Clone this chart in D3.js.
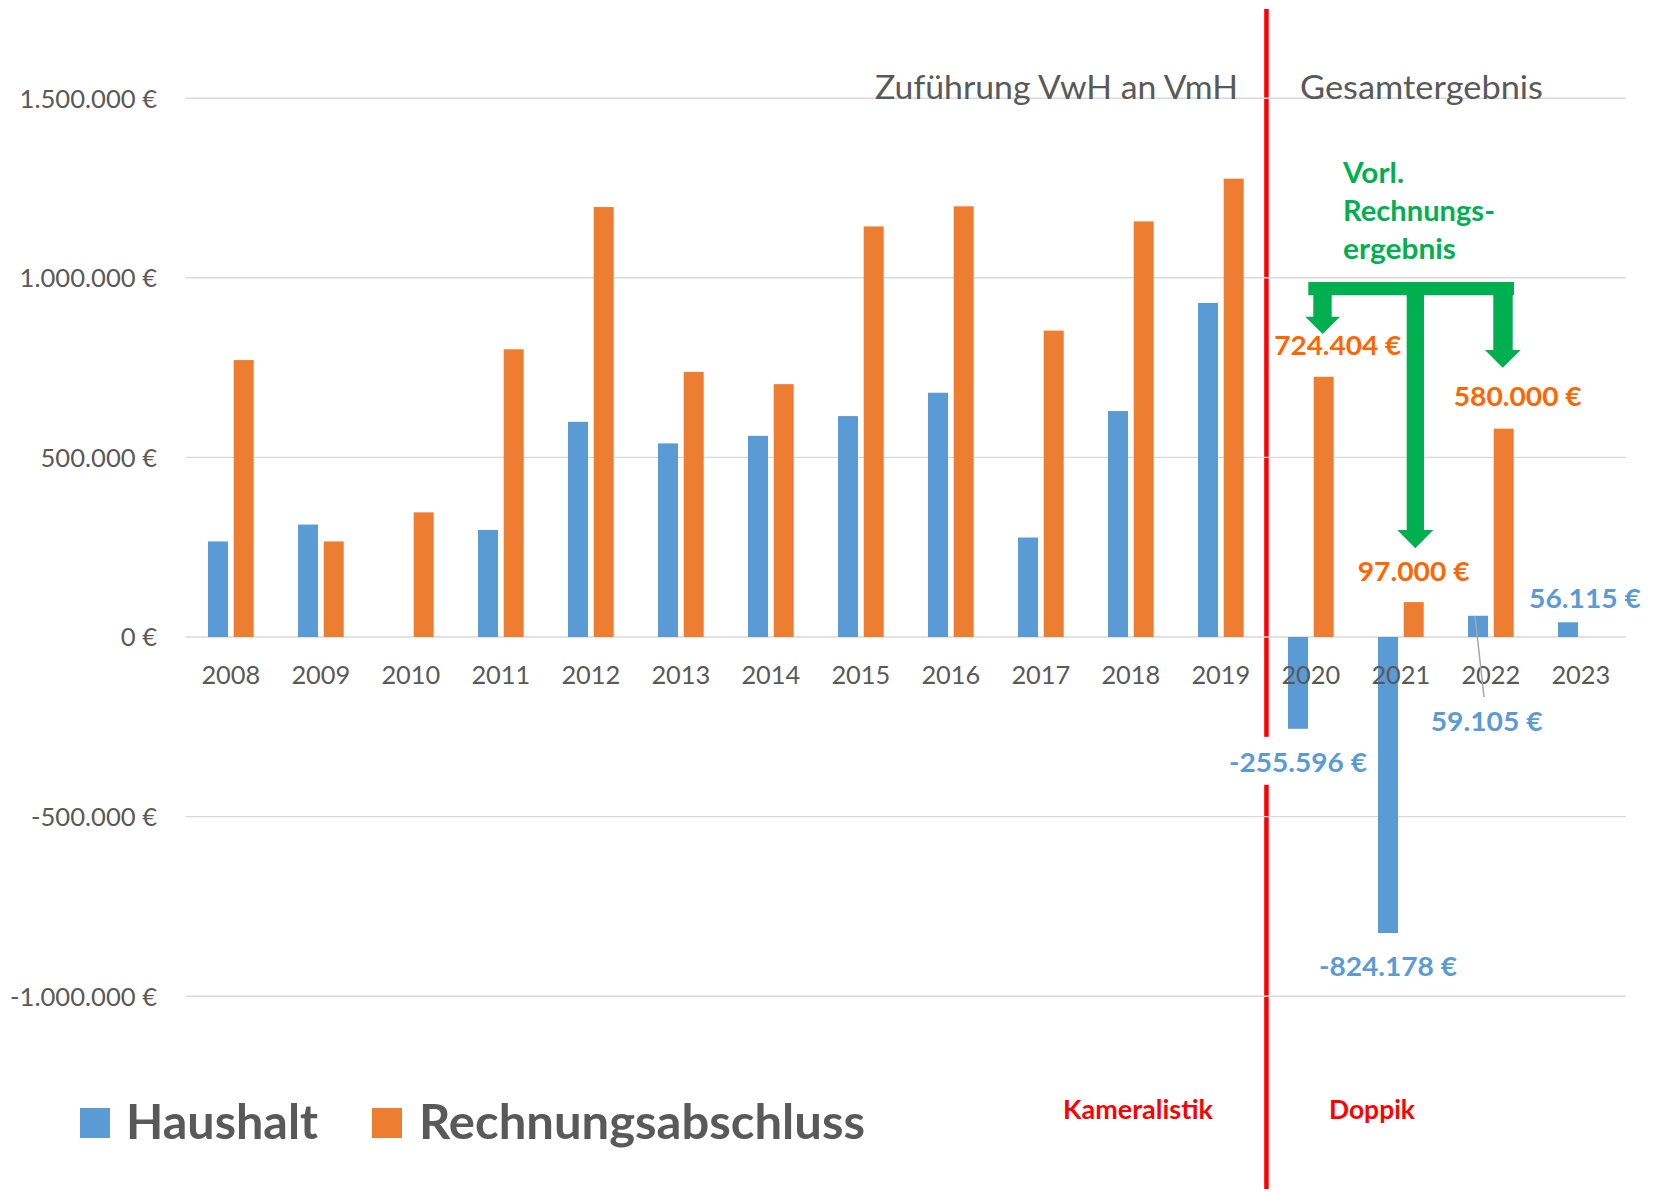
<!DOCTYPE html>
<html><head><meta charset="utf-8">
<script src="https://cdn.jsdelivr.net/npm/d3@7"></script>
<style>html,body{margin:0;padding:0;background:#fff;} svg{display:block;}</style>
</head><body>
<svg id="chart" width="1663" height="1192"></svg>
<script>
// ---------- data ----------
const years = ["2008","2009","2010","2011","2012","2013","2014","2015","2016","2017","2018","2019","2020","2021","2022","2023"];
const series = ["Haushalt","Rechnungsabschluss"];
const haushalt = [266000,313000,0,298000,599000,539000,560000,615000,680000,277000,629000,930000,-255596,-824178,59105,41000];
const rechnungsabschluss = [771000,266000,347000,801000,1197000,738000,704000,1143000,1199000,853000,1157000,1276000,724404,97000,580000,null];
const yTicks = [-1000000,-500000,0,500000,1000000,1500000];
// value labels (text, year, series)
const valueLabels = [
  {text:"724.404 €", year:"2020", s:"Rechnungsabschluss"},
  {text:"97.000 €", year:"2021", s:"Rechnungsabschluss"},
  {text:"580.000 €", year:"2022", s:"Rechnungsabschluss"},
  {text:"-255.596 €", year:"2020", s:"Haushalt"},
  {text:"-824.178 €", year:"2021", s:"Haushalt"},
  {text:"59.105 €", year:"2022", s:"Haushalt"},
  {text:"56.115 €", year:"2023", s:"Haushalt"}
];

// ---------- layout ----------
const plotL=185.85, plotR=1625.85;
const svg = d3.select("#chart");
const FONT = "Lato, 'Open Sans', sans-serif";
const GREY = "#595959";
const BLUE = "#5B9BD5", ORANGE = "#ED7D31";
const LBL_ORANGE = "#FF6600";
const GREEN = "#00B050";
const RED = "#FF0000";

const fit = (sel, w) => sel.attr("textLength", w).attr("lengthAdjust","spacingAndGlyphs");

const x = d3.scaleBand().domain(years).range([plotL, plotR]).padding(0);
const xs = d3.scaleBand().domain(series).range([-22.85, 22.85]).paddingInner(0.222);
const y = d3.scaleLinear().domain([-1000000,1500000]).range([996.2, 98.2]);

const locale = d3.formatLocale({decimal:",", thousands:".", grouping:[3], currency:["", " €"], minus:"-"});
const fmt = locale.format("$,.0f");

const barX = (yr, s) => x(yr) + x.bandwidth()/2 + xs(s);
const barC = (yr, s) => barX(yr, s) + xs.bandwidth()/2;

// red separator line (drawn below gridlines)
const sepX = (x("2019") + x.bandwidth() + x("2020")) / 2 + 0.6;
svg.append("line").attr("x1",sepX).attr("x2",sepX).attr("y1",9).attr("y2",1189)
  .attr("stroke",RED).attr("stroke-width",4.5);

// gridlines
svg.append("g").selectAll("line").data(yTicks).join("line")
  .attr("x1",plotL).attr("x2",plotR)
  .attr("y1",d=>y(d)).attr("y2",d=>y(d))
  .attr("stroke","#D9D9D9").attr("stroke-width",1.4);

// y axis labels
const yAxis = d3.axisLeft(y).tickValues(yTicks).tickFormat(fmt).tickSize(0).tickPadding(0);
const ya = svg.append("g").attr("transform","translate(157,0)").call(yAxis);
ya.select(".domain").remove();
ya.selectAll("text").attr("font-family",FONT).attr("font-size",25.6).attr("fill",GREY).attr("dy","0.35em");

// bars
const rows = [];
years.forEach((yr,i)=>{
  rows.push({yr, s:"Haushalt", v:haushalt[i]});
  rows.push({yr, s:"Rechnungsabschluss", v:rechnungsabschluss[i]});
});
svg.append("g").selectAll("rect").data(rows.filter(d=>d.v!==null && d.v!==0)).join("rect")
  .attr("x",d=>barX(d.yr,d.s)).attr("width",xs.bandwidth())
  .attr("y",d=>Math.min(y(d.v),y(0))).attr("height",d=>Math.abs(y(d.v)-y(0)))
  .attr("fill",d=>d.s==="Haushalt"?BLUE:ORANGE);

// x axis labels (on top of bars)
const xAxis = d3.axisBottom(x).tickSize(0).tickPadding(0);
const xa = svg.append("g").attr("transform","translate(0,684)").call(xAxis);
xa.select(".domain").remove();
xa.selectAll("text").attr("font-family",FONT).attr("font-size",25.4).attr("fill",GREY).attr("dy","0");

// section titles
fit(svg.append("text").attr("x",875).attr("y",99).text("Zuführung VwH an VmH")
  .attr("font-family",FONT).attr("font-size",32).attr("fill",GREY), 363);
fit(svg.append("text").attr("x",1300).attr("y",99).text("Gesamtergebnis")
  .attr("font-family",FONT).attr("font-size",32).attr("fill",GREY), 243);

// leader line for 59.105 €
svg.append("line").attr("x1",barC("2022","Haushalt")-3).attr("y1",y(59105))
  .attr("x2",barC("2022","Haushalt")+6).attr("y2",697)
  .attr("stroke","#A6A6A6").attr("stroke-width",1.5);

// value labels, placed relative to their bar
const lblOffsets = {
  "724.404 €":[14,-22], "97.000 €":[0,-21], "580.000 €":[14,-23],
  "-255.596 €":[0,43], "-824.178 €":[0,43], "59.105 €":[8.7,115], "56.115 €":[17,-14]
};
const lblWidth = {"724.404 €":127,"97.000 €":112,"580.000 €":128,"-255.596 €":138,"-824.178 €":138,"59.105 €":112,"56.115 €":112};
const lblVal = l => (l.s==="Haushalt"?haushalt:rechnungsabschluss)[years.indexOf(l.year)];
// white background behind -255.596 € (interrupts red line)
svg.append("rect").attr("x",sepX-8).attr("y",y(-255596)+8).attr("width",16).attr("height",48).attr("fill","#fff");
svg.append("g").selectAll("text").data(valueLabels).join("text")
  .attr("x",l=>barC(l.year,l.s)+lblOffsets[l.text][0])
  .attr("y",l=>y(lblVal(l))+lblOffsets[l.text][1])
  .attr("text-anchor","middle")
  .attr("font-family",FONT).attr("font-weight",700).attr("font-size",27)
  .attr("fill",l=>l.s==="Haushalt"?BLUE:LBL_ORANGE)
  .attr("textLength",l=>lblWidth[l.text]).attr("lengthAdjust","spacingAndGlyphs")
  .text(l=>l.text);

// green annotation
const g = svg.append("g").attr("fill",GREEN);
const greenLines = [{t:"Vorl.",w:61},{t:"Rechnungs-",w:152},{t:"ergebnis",w:113}];
greenLines.forEach((d,i)=>{
  fit(g.append("text").attr("x",1343).attr("y",183+i*37.8).text(d.t)
    .attr("font-family",FONT).attr("font-weight",700).attr("font-size",28), d.w);
});
const arrowPath = d3.path();
arrowPath.moveTo(1308.3,282);
arrowPath.lineTo(1514,282);
arrowPath.lineTo(1514,295.3);
arrowPath.lineTo(1512.7,295.3);
arrowPath.lineTo(1512.7,350);
arrowPath.lineTo(1520.7,350);
arrowPath.lineTo(1502.7,367.7);
arrowPath.lineTo(1485,350);
arrowPath.lineTo(1493.3,350);
arrowPath.lineTo(1493.3,295.3);
arrowPath.lineTo(1424,295.3);
arrowPath.lineTo(1424,530);
arrowPath.lineTo(1433.3,530);
arrowPath.lineTo(1415.3,548.3);
arrowPath.lineTo(1397.3,530);
arrowPath.lineTo(1406.7,530);
arrowPath.lineTo(1406.7,295.3);
arrowPath.lineTo(1331.7,295.3);
arrowPath.lineTo(1331.7,316.7);
arrowPath.lineTo(1340,316.7);
arrowPath.lineTo(1322.7,334);
arrowPath.lineTo(1305.3,316.7);
arrowPath.lineTo(1313.3,316.7);
arrowPath.lineTo(1313.3,295.3);
arrowPath.lineTo(1308.3,295.3);
arrowPath.closePath();
g.append("path").attr("d",arrowPath.toString());

// Kameralistik / Doppik
fit(svg.append("text").attr("x",1063).attr("y",1119).text("Kameralistik")
  .attr("font-family",FONT).attr("font-weight",700).attr("font-size",26).attr("fill",RED), 150);
fit(svg.append("text").attr("x",1329).attr("y",1119).text("Doppik")
  .attr("font-family",FONT).attr("font-weight",700).attr("font-size",26).attr("fill",RED), 86);

// legend
const legend = [{name:"Haushalt", color:BLUE, bx:80, tx:126, w:192},{name:"Rechnungsabschluss", color:ORANGE, bx:372, tx:419, w:446}];
const lg = svg.append("g");
legend.forEach(l=>{
  lg.append("rect").attr("x",l.bx).attr("y",1108).attr("width",30).attr("height",30).attr("fill",l.color);
  fit(lg.append("text").attr("x",l.tx).attr("y",1139).text(l.name)
    .attr("font-family",FONT).attr("font-weight",700).attr("font-size",48).attr("fill",GREY), l.w);
});
</script>
</body></html>
